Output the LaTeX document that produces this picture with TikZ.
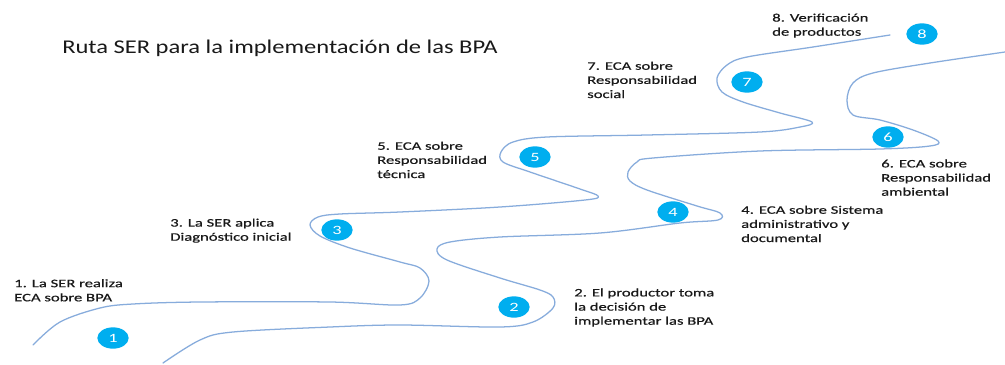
\documentclass[tikz,border=0pt]{standalone}
\usepackage{fontspec}
\usetikzlibrary{shapes.geometric}
\newfontfamily\labfont[FakeStretch=1.45,FakeBold=0.5]{Carlito}
\newfontfamily\digfont[FakeStretch=1.45]{Carlito}
\newfontfamily\ttlfont[FakeStretch=1.26]{Carlito}
\definecolor{roadline}{RGB}{135,172,220}
\definecolor{stepblue}{RGB}{0,174,239}
\definecolor{textgray}{RGB}{25,25,25}
\tikzset{
  roadedge/.style={draw=roadline, line width=0.95pt, line cap=round, line join=round},
  stepdot/.style={ellipse, fill=stepblue, draw=none, minimum width=23.5pt, minimum height=16pt, inner sep=0pt, text=white, font=\digfont\fontsize{9.5}{10}\selectfont},
  steplabel/.style={anchor=base west, align=left, inner sep=0pt, text=textgray, font=\labfont\fontsize{8.6}{10.6}\selectfont},
  titletext/.style={anchor=base west, inner sep=0pt, text=textgray, font=\ttlfont\fontsize{14.6}{17}\selectfont}
}
\begin{document}
\begin{tikzpicture}[x=0.75pt, y=-0.75pt]
\useasboundingbox[fill=white] (0,0) rectangle (1005,364);
% upper edge of the route
\draw[roadedge] plot[smooth, tension=0.55] coordinates {
 (33,345) (60,322) (100,308) (133,304) (200,302) (330,302) (400,305) (420,298) (429,281)
 (420,268) (400,262) (350,248) (320,236) (310,225) (318,217) (340,214) (400,212) (500,207)
 (585,200) (598,196) (580,189) (530,172) (503,162) (501,152) (513,142) (547,137) (647,135)
 (760,132) (800,127) (812,122) (780,113) (743,102) (722,92) (717,78) (727,65) (747,57)
 (813,47) (890,35)};
% lower edge of the route
\draw[roadedge] plot[smooth, tension=0.55] coordinates {
 (163,363) (200,340) (233,332) (330,327) (400,325) (500,327) (533,322) (553,308) (553,297)
 (540,290) (500,278) (447,260) (437,249) (450,242) (500,237) (600,233) (680,223) (718,220)
 (720,213) (697,206) (647,190) (630,181) (628,172) (637,162) (653,158) (760,151) (880,149)
 (930,146) (938,141) (913,130) (880,120) (853,115) (847,100) (853,83) (873,73) (930,63)
 (1005,52)};
% title
\node[titletext] (title) at (62,53.3) {Ruta SER para la implementación de las BPA};
% steps
\node[stepdot] (s1) at (113,338) {1};
\node[stepdot] (s2) at (514,307) {2};
\node[stepdot] (s3) at (337,230) {3};
\node[stepdot] (s4) at (673,212) {4};
\node[stepdot] (s5) at (535,157) {5};
\node[stepdot] (s6) at (888,137) {6};
\node[stepdot] (s7) at (747,82) {7};
\node[stepdot] (s8) at (922,34) {8};
% labels (base anchor = baseline of the last line)
\node[steplabel] (l1) at (14,301.3) {1. La SER realiza\\ECA sobre BPA};
\node[steplabel] (l2) at (574,324.7) {2. El productor toma\\la decisión de\\implementar las BPA};
\node[steplabel] (l3) at (170,240.7) {3. La SER aplica\\Diagnóstico inicial};
\node[steplabel] (l4) at (741,242) {4. ECA sobre Sistema\\administrativo y\\documental};
\node[steplabel] (l5) at (377,178) {5. ECA sobre\\Responsabilidad\\técnica};
\node[steplabel] (l6) at (881,195.7) {6. ECA sobre\\Responsabilidad\\ambiental};
\node[steplabel] (l7) at (587,98) {7. ECA sobre\\Responsabilidad\\social};
\node[steplabel] (l8) at (772,35.7) {8. Verificación\\de productos};
\end{tikzpicture}
\end{document}
